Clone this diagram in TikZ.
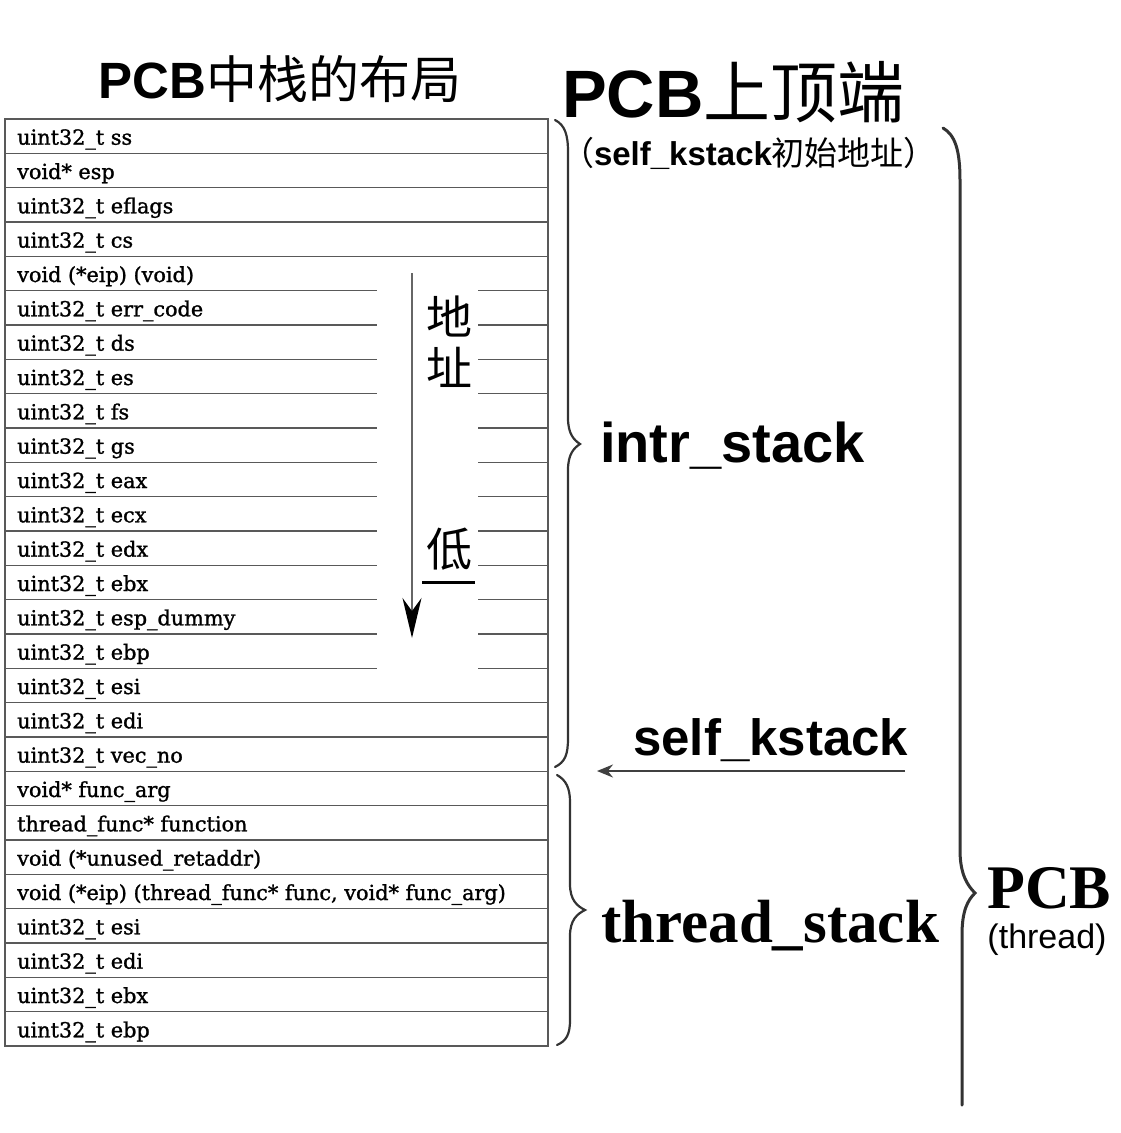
\documentclass[tikz,border=0pt]{standalone}
\usepackage{fontspec}
\setmainfont{Liberation Serif}
\newfontfamily\cjk{Noto Sans CJK SC}
\newfontfamily\tabfont[FakeBold=1.2]{DejaVu Serif}
\newfontfamily\hsans{Liberation Sans}
\newfontfamily\hserif{Liberation Serif}
\usetikzlibrary{arrows.meta}
\tikzset{
  grid/.style={draw=black!65, line width=1.4pt},
  cell/.style={anchor=base west, inner sep=0pt, text=black, font=\tabfont\fontsize{20.8}{21}\selectfont},
  bracepath/.style={draw=black!80, line width=2.2pt, line cap=round},
  big/.style={inner sep=0pt, text=black},
}
\newcommand\rowtext[2]{\node[cell] (r#1) at (17,{119+(#1-0.5)*34.3333+8.5}) {#2};}
\begin{document}
\begin{tikzpicture}[x=1pt,y=-1pt]
\useasboundingbox (0,0) rectangle (1120,1133);
\fill[white] (0,0) rectangle (1120,1133);

% table
\draw[grid] (5,119) rectangle (548,1046);
\foreach \i in {1,...,4,17,18,...,26}
  \draw[grid] (5,{119+\i*34.3333}) -- (548,{119+\i*34.3333});
\foreach \i in {5,...,16}{
  \draw[grid] (5,{119+\i*34.3333}) -- (377,{119+\i*34.3333});
  \draw[grid] (478,{119+\i*34.3333}) -- (548,{119+\i*34.3333});
}

\rowtext{1}{uint32\_t ss}
\rowtext{2}{void* esp}
\rowtext{3}{uint32\_t eflags}
\rowtext{4}{uint32\_t cs}
\rowtext{5}{void (*eip) (void)}
\rowtext{6}{uint32\_t err\_code}
\rowtext{7}{uint32\_t ds}
\rowtext{8}{uint32\_t es}
\rowtext{9}{uint32\_t fs}
\rowtext{10}{uint32\_t gs}
\rowtext{11}{uint32\_t eax}
\rowtext{12}{uint32\_t ecx}
\rowtext{13}{uint32\_t edx}
\rowtext{14}{uint32\_t ebx}
\rowtext{15}{uint32\_t esp\_dummy}
\rowtext{16}{uint32\_t ebp}
\rowtext{17}{uint32\_t esi}
\rowtext{18}{uint32\_t edi}
\rowtext{19}{uint32\_t vec\_no}
\rowtext{20}{void* func\_arg}
\rowtext{21}{thread\_func* function}
\rowtext{22}{void (*unused\_retaddr)}
\rowtext{23}{void (*eip) (thread\_func* func, void* func\_arg)}
\rowtext{24}{uint32\_t esi}
\rowtext{25}{uint32\_t edi}
\rowtext{26}{uint32\_t ebx}
\rowtext{27}{uint32\_t ebp}

% address arrow
\coordinate (atop) at (412,273);
\coordinate (abot) at (412,638);
\draw[draw=black!60, line width=1.6pt, -{Stealth[length=40pt,width=19pt,black]}] (atop) -- (abot);
\node[big, font=\cjk\fontsize{46}{46}\selectfont] (di) at (449,316) {地};
\node[big, font=\cjk\fontsize{46}{46}\selectfont] (zhi) at (449,367) {址};
\node[big, font=\cjk\fontsize{46}{46}\selectfont] (low) at (449,549) {低};
\draw[line width=3pt] (422,582) -- (475,582);

% titles
\node[big] (title) at (280,79) {\fontsize{51}{51}\selectfont{\hsans\bfseries PCB}{\cjk 中栈的布局}};
\node[big, anchor=base west] (top) at (562,117) {\fontsize{67}{67}\selectfont{\hsans\bfseries PCB}{\cjk 上顶端}};
\node[big] (topsub) at (749,153) {\fontsize{33}{33}\selectfont{\cjk （}{\hsans\bfseries self\_kstack}{\cjk 初始地址）}};

% braces
\draw[bracepath] (555,120) .. controls (565,125) and (568,135) .. (568,152) -- (568,418)
  .. controls (568,434) and (574,440) .. (580,444) .. controls (574,448) and (568,454) .. (568,470)
  -- (568,738) .. controls (568,755) and (565,762) .. (555,767);
\draw[bracepath] (557,775) .. controls (566,780) and (570,788) .. (570,802) -- (570,884)
  .. controls (570,900) and (577,906) .. (585,910) .. controls (577,914) and (570,920) .. (570,936)
  -- (570,1020) .. controls (570,1035) and (566,1041) .. (557,1045);
\draw[bracepath, line width=3pt] (943,128) .. controls (955,135) and (960,150) .. (960,180) -- (960,850)
  .. controls (960,875) and (968,886) .. (975,893) .. controls (968,900) and (962,910) .. (962,935)
  -- (962,1105);

\node[big, anchor=base west, font=\hsans\bfseries\fontsize{56}{56}\selectfont] (intr) at (600,462) {intr\_stack};
\node[big, anchor=base west, font=\hsans\bfseries\fontsize{51}{51}\selectfont] (sk) at (633,755) {self\_kstack};
\coordinate (skfrom) at (905,771);
\coordinate (skto) at (597,771);
\draw[draw=black!75, line width=2pt, -{Stealth[length=16pt,width=13pt]}] (skfrom) -- (skto);
\node[big, anchor=base west, font=\hserif\bfseries\fontsize{61}{61}\selectfont] (ts) at (601,942) {thread\_stack};
\node[big, anchor=base west, font=\hserif\bfseries\fontsize{62}{62}\selectfont] (pcb) at (987,908) {PCB};
\node[big, anchor=base, font=\hsans\fontsize{34}{34}\selectfont] (thr) at (1047,948) {(thread)};
\end{tikzpicture}
\end{document}
